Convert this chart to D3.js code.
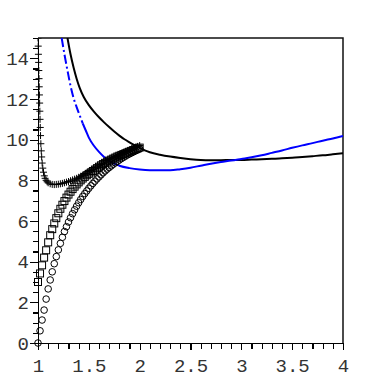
<!DOCTYPE html>
<html lang="en">
<head>
<meta charset="UTF-8">
<title>curves</title>
<style>
  body { margin: 0; background: #fff; }
  .axis path, .axis line { stroke: #000; stroke-width: 1.3; shape-rendering: crispEdges; }
  .axis text { font-family: "Liberation Mono", "DejaVu Sans Mono", monospace; font-size: 19px; fill: #333; }
</style>
</head>
<body>
<script src="https://d3js.org/d3.v7.min.js"></script>
<script>
// tick labels
const xTickValues = [1, 1.5, 2, 2.5, 3, 3.5, 4];
const xTickLabels = ["1", "1.5", "2", "2.5", "3", "3.5", "4"];
const yTickValues = [0, 2, 4, 6, 8, 10, 12, 14];
const yTickLabels = ["0", "2", "4", "6", "8", "10", "12", "14"];

// black solid line
const blackX = [1.29, 1.32, 1.35, 1.38, 1.41, 1.45, 1.5, 1.55, 1.6, 1.65, 1.7, 1.75, 1.8, 1.85, 1.9, 1.95, 2.0, 2.05, 2.1, 2.2, 2.3, 2.4, 2.5, 2.6, 2.7, 2.8, 2.9, 3.0, 3.1, 3.2, 3.3, 3.4, 3.5, 3.6, 3.7, 3.8, 3.9, 4.0];
const blackY = [15.0, 14.2, 13.55, 13.0, 12.55, 12.1, 11.7, 11.38, 11.1, 10.85, 10.62, 10.4, 10.2, 10.02, 9.87, 9.73, 9.6, 9.47, 9.38, 9.26, 9.17, 9.1, 9.04, 9.0, 8.99, 8.99, 9.0, 9.0, 9.02, 9.04, 9.06, 9.08, 9.11, 9.15, 9.19, 9.23, 9.28, 9.33];

// blue line: dash-dot part, then solid part
const blueDashX = [1.233, 1.26, 1.29, 1.32, 1.35, 1.38, 1.41, 1.44];
const blueDashY = [15.0, 14.2, 13.4, 12.65, 12.05, 11.6, 11.2, 10.8];
const blueX = [1.44, 1.47, 1.5, 1.55, 1.6, 1.65, 1.7, 1.8, 1.9, 2.0, 2.1, 2.2, 2.3, 2.4, 2.5, 2.6, 2.7, 2.8, 2.9, 3.0, 3.1, 3.2, 3.3, 3.4, 3.5, 3.6, 3.7, 3.8, 3.9, 4.0];
const blueY = [10.8, 10.45, 10.1, 9.7, 9.4, 9.15, 8.95, 8.72, 8.6, 8.53, 8.5, 8.5, 8.5, 8.55, 8.62, 8.72, 8.82, 8.9, 8.97, 9.05, 9.13, 9.23, 9.35, 9.47, 9.6, 9.72, 9.83, 9.95, 10.06, 10.18];

// "+" markers
const plusX = [1.000, 1.002, 1.004, 1.006, 1.008, 1.010, 1.012, 1.014, 1.016, 1.018, 1.020, 1.022, 1.025, 1.028, 1.032, 1.036, 1.041, 1.047, 1.054, 1.062, 1.07, 1.08, 1.09, 1.10, 1.12, 1.14, 1.16, 1.18, 1.20, 1.22, 1.24, 1.26, 1.28, 1.30, 1.32, 1.34, 1.36, 1.38, 1.40, 1.42, 1.44, 1.46, 1.48, 1.50, 1.52, 1.54, 1.56, 1.58, 1.60, 1.62, 1.64, 1.66, 1.68, 1.70, 1.72, 1.74, 1.76, 1.78, 1.80, 1.82, 1.84, 1.86, 1.88, 1.90, 1.92, 1.94, 1.96, 1.98, 2.00];
const plusY = [15.0, 14.6, 14.2, 13.8, 13.4, 13.0, 12.6, 12.2, 11.8, 11.4, 11.0, 10.6, 10.2, 9.8, 9.45, 9.15, 8.85, 8.6, 8.4, 8.22, 8.1, 8.0, 7.93, 7.88, 7.83, 7.8, 7.79, 7.8, 7.81, 7.83, 7.85, 7.88, 7.91, 7.94, 7.98, 8.02, 8.06, 8.1, 8.15, 8.2, 8.25, 8.3, 8.36, 8.42, 8.48, 8.54, 8.6, 8.66, 8.72, 8.78, 8.84, 8.9, 8.96, 9.02, 9.07, 9.12, 9.17, 9.22, 9.27, 9.32, 9.37, 9.42, 9.46, 9.5, 9.55, 9.59, 9.63, 9.67, 9.71];

// square markers
const squareX = [1.00, 1.02, 1.04, 1.06, 1.08, 1.10, 1.12, 1.14, 1.16, 1.18, 1.20, 1.22, 1.24, 1.26, 1.28, 1.30, 1.32, 1.34, 1.36, 1.38, 1.40, 1.42, 1.44, 1.46, 1.48, 1.50, 1.52, 1.54, 1.56, 1.58, 1.60, 1.62, 1.64, 1.66, 1.68, 1.70, 1.72, 1.74, 1.76, 1.78, 1.80, 1.82, 1.84, 1.86, 1.88, 1.90, 1.92, 1.94, 1.96, 1.98, 2.00];
const squareY = [3.0, 3.42, 3.82, 4.2, 4.56, 4.95, 5.3, 5.6, 5.88, 6.14, 6.38, 6.6, 6.8, 6.98, 7.15, 7.3, 7.44, 7.57, 7.69, 7.8, 7.9, 8.0, 8.09, 8.17, 8.25, 8.32, 8.39, 8.46, 8.53, 8.6, 8.67, 8.74, 8.8, 8.86, 8.92, 8.97, 9.02, 9.07, 9.12, 9.17, 9.21, 9.25, 9.29, 9.33, 9.37, 9.41, 9.45, 9.49, 9.53, 9.57, 9.61];

// circle markers
const circleX = squareX;
const circleY = [0, 0.6, 1.13, 1.62, 2.16, 2.66, 3.1, 3.5, 3.9, 4.25, 4.58, 4.9, 5.2, 5.48, 5.72, 5.95, 6.16, 6.36, 6.55, 6.73, 6.9, 7.06, 7.21, 7.35, 7.48, 7.61, 7.73, 7.85, 7.96, 8.07, 8.17, 8.27, 8.37, 8.46, 8.55, 8.63, 8.71, 8.79, 8.86, 8.93, 9.0, 9.07, 9.13, 9.19, 9.25, 9.3, 9.35, 9.4, 9.45, 9.5, 9.55];

const width = 382, height = 382;
const margin = { left: 38, right: 39, top: 38, bottom: 39 };
const w = width - margin.left - margin.right;
const h = height - margin.top - margin.bottom;

const svg = d3.select("body").append("svg").attr("width", width).attr("height", height);
const g = svg.append("g").attr("transform", "translate(" + margin.left + "," + margin.top + ")");

const x = d3.scaleLinear().domain([1, 4]).range([0, w]);
const y = d3.scaleLinear().domain([0, 15]).range([h, 0]);

const zip = (xs, ys) => xs.map((v, i) => [v, ys[i]]);

// clip only the top so markers on the axis still show
g.append("clipPath").attr("id", "clip")
  .append("rect").attr("x", -15).attr("y", 0).attr("width", w + 15).attr("height", h + 15);

// frame (top + right)
g.append("path")
  .attr("d", "M0,0H" + w + "V" + h)
  .attr("fill", "none").attr("stroke", "#111").attr("stroke-width", 1.5);

// minor ticks
g.append("g").attr("class", "axis")
  .call(d3.axisLeft(y).tickValues(d3.range(0, 15.01, 0.5)).tickSize(5).tickFormat(""))
  .call(a => a.select(".domain").remove());
g.append("g").attr("class", "axis").attr("transform", "translate(0," + h + ")")
  .call(d3.axisBottom(x).tickValues(d3.range(10, 41).map(d => d / 10)).tickSize(6).tickFormat(""))
  .call(a => a.select(".domain").remove());

// major ticks + labels
g.append("g").attr("class", "axis")
  .call(d3.axisLeft(y).tickValues(yTickValues).tickSize(8).tickPadding(1).tickSizeOuter(0)
    .tickFormat((d, i) => yTickLabels[i]));
g.append("g").attr("class", "axis").attr("transform", "translate(0," + h + ")")
  .call(d3.axisBottom(x).tickValues(xTickValues).tickSize(7).tickPadding(9).tickSizeOuter(0)
    .tickFormat((d, i) => xTickLabels[i]));

const plot = g.append("g").attr("clip-path", "url(#clip)");
const line = d3.line().x(d => x(d[0])).y(d => y(d[1])).curve(d3.curveMonotoneX);

plot.append("path").datum(zip(blackX, blackY))
  .attr("d", line).attr("fill", "none").attr("stroke", "#000").attr("stroke-width", 2);
plot.append("path").datum(zip(blueDashX, blueDashY))
  .attr("d", line).attr("fill", "none").attr("stroke", "#0000ff").attr("stroke-width", 2)
  .attr("stroke-dasharray", "9,3,2,3");
plot.append("path").datum(zip(blueX, blueY))
  .attr("d", line).attr("fill", "none").attr("stroke", "#0000ff").attr("stroke-width", 2);

plot.selectAll(".circ").data(zip(circleX, circleY)).enter().append("circle")
  .attr("cx", d => x(d[0])).attr("cy", d => y(d[1])).attr("r", 3.3)
  .attr("fill", "none").attr("stroke", "#000").attr("stroke-width", 1);

plot.selectAll(".sq").data(zip(squareX, squareY)).enter().append("rect")
  .attr("x", d => x(d[0]) - 3.5).attr("y", d => y(d[1]) - 3.5)
  .attr("width", 7).attr("height", 7)
  .attr("fill", "none").attr("stroke", "#000").attr("stroke-width", 1);

plot.selectAll(".plus").data(zip(plusX, plusY)).enter().append("path")
  .attr("transform", d => "translate(" + x(d[0]) + "," + y(d[1]) + ")")
  .attr("d", "M-3.5,0H3.5M0,-3.5V3.5")
  .attr("fill", "none").attr("stroke", "#000").attr("stroke-width", 1);
</script>
</body>
</html>
